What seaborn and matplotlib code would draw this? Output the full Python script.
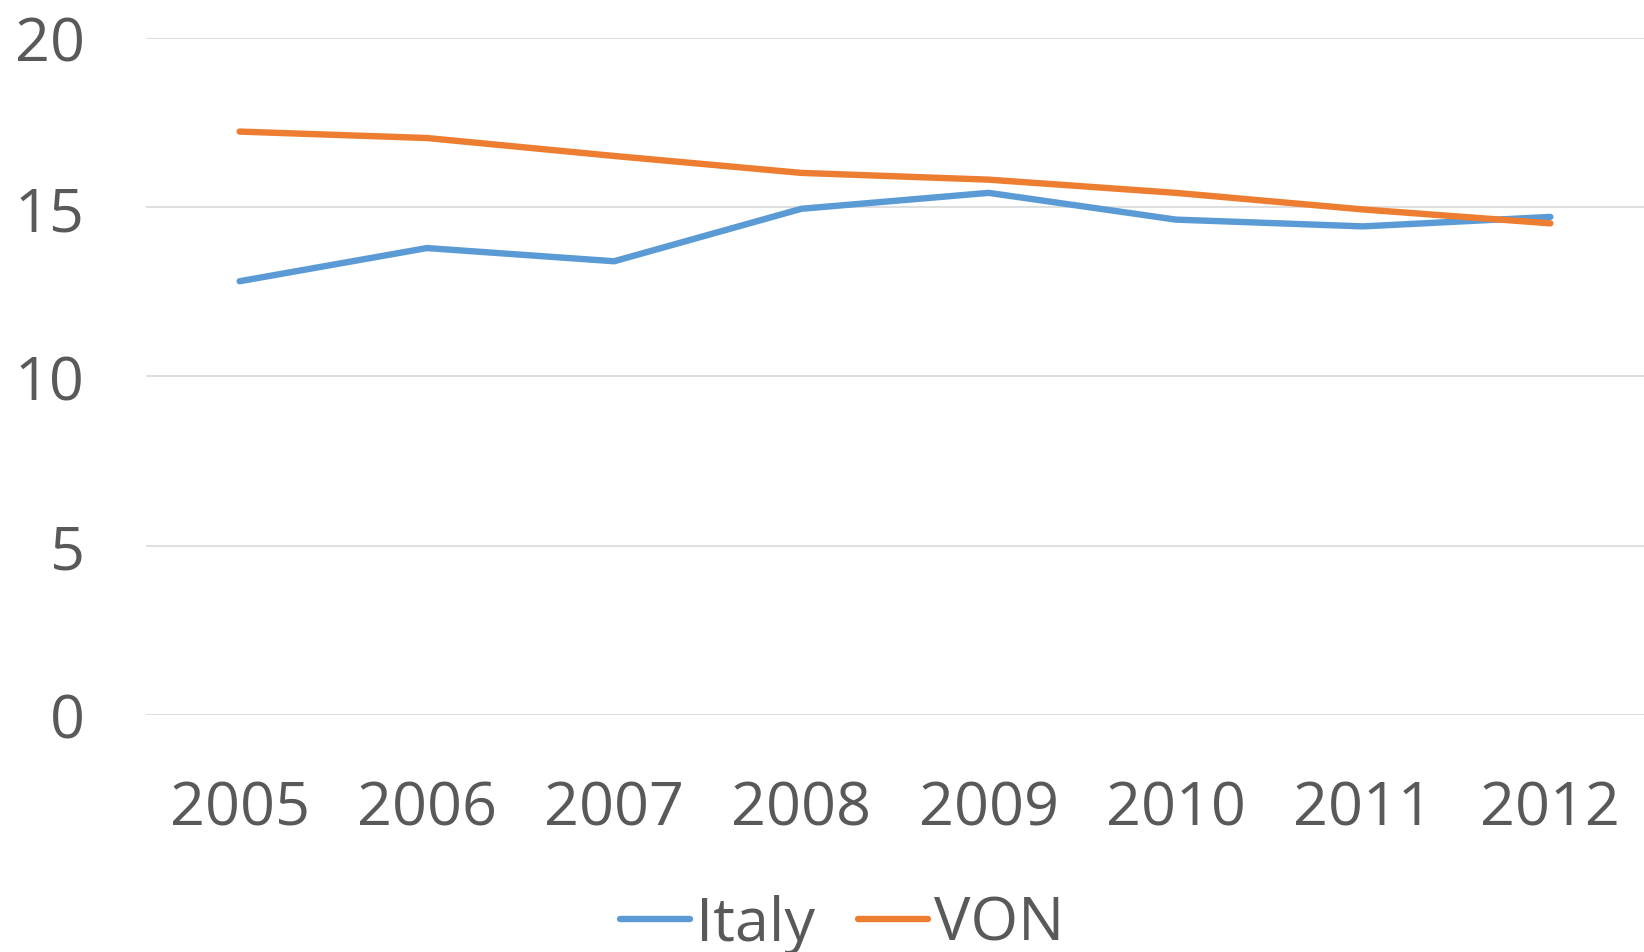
import numpy as np
import pandas as pd
import matplotlib
matplotlib.use("Agg")
import matplotlib.pyplot as plt
import seaborn as sns

years = [2005, 2006, 2007, 2008, 2009, 2010, 2011, 2012]
italy = [12.81, 13.79, 13.40, 14.95, 15.42, 14.63, 14.43, 14.71]
von = [17.23, 17.04, 16.51, 16.01, 15.81, 15.42, 14.93, 14.52]
series_names = ["Italy", "VON"]
yticks = [0, 5, 10, 15, 20]

df = pd.DataFrame({
    "year": years * 2,
    "value": italy + von,
    "serie": [series_names[0]] * len(years) + [series_names[1]] * len(years),
})

sns.set_style("white")
plt.rcParams["font.family"] = ["Open Sans", "DejaVu Sans"]
grigio = "#595959"

fig = plt.figure(figsize=(16.44, 9.53), dpi=100)
ax = fig.add_axes([0.0888, 0.2487, 0.9112, 0.7106])

sns.lineplot(data=df, x="year", y="value", hue="serie",
             palette={"Italy": "#5B9BD5", "VON": "#ED7D31"},
             linewidth=4.6, ax=ax, legend=False, solid_capstyle="round")

ax.set_xlim(years[0] - 0.5, years[-1] + 0.5)
ax.set_ylim(0, 20)
ax.set_yticks(yticks)
ax.set_xticks(years)
ax.set_xticklabels([str(y) for y in years])
ax.yaxis.grid(True, color="#D9D9D9", linewidth=1.2)
ax.set_axisbelow(True)
for s in ax.spines.values():
    s.set_visible(False)
ax.tick_params(axis="both", length=0, labelsize=44, labelcolor=grigio)
ax.tick_params(axis="y", pad=44)
ax.tick_params(axis="x", pad=46)
ax.set_xlabel("")
ax.set_ylabel("")

# legenda in basso
handles = [plt.Line2D([], [], color=c, linewidth=4.6, solid_capstyle="round")
           for c in ["#5B9BD5", "#ED7D31"]]
fig.legend(handles, series_names, loc="center", bbox_to_anchor=(842 / 1644, 1 - 925 / 953),
           ncol=2, frameon=False, fontsize=44, labelcolor=grigio,
           handlelength=1.15, handletextpad=0.1, columnspacing=0.7)

fig.savefig("out.png", dpi=100)
